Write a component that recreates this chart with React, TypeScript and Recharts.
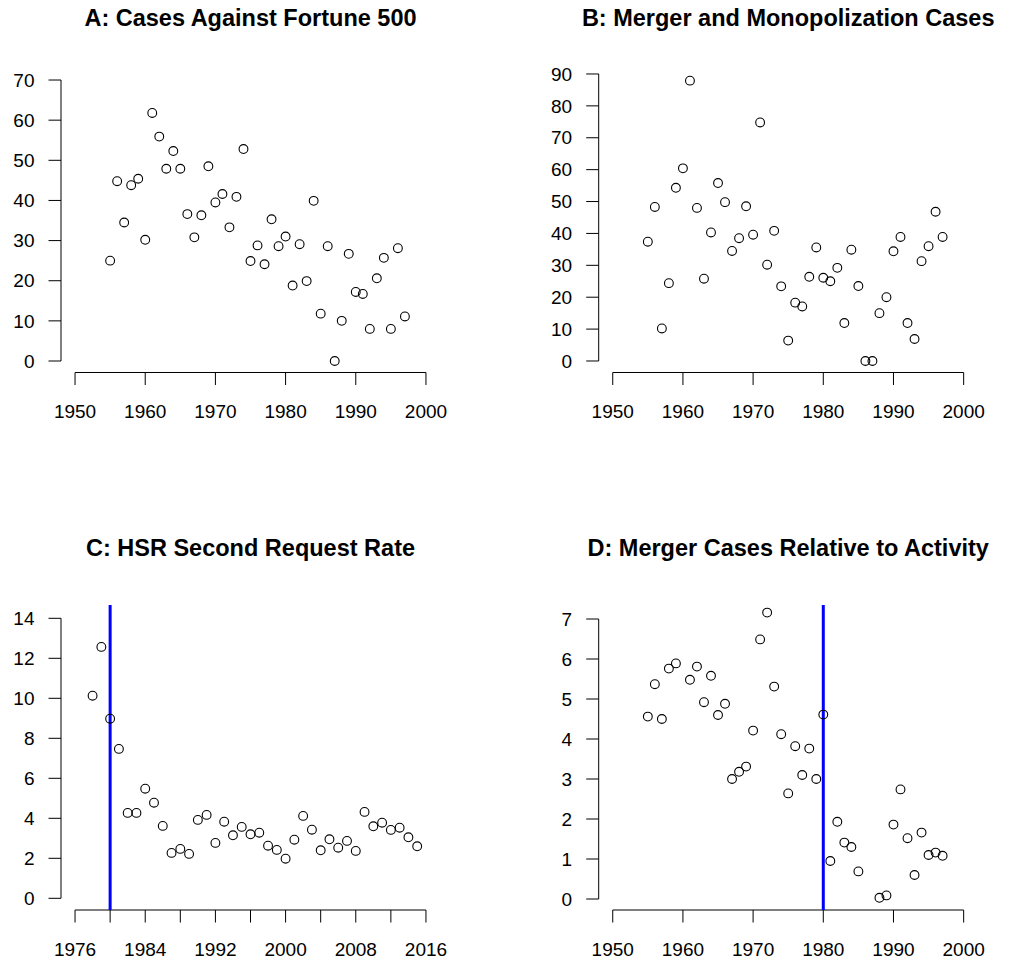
import React from 'react';
import { ScatterChart, Scatter, XAxis, YAxis, ReferenceLine } from 'recharts';

const FONT = '"Liberation Sans", Arial, Helvetica, sans-serif';

// A and B (and D) share the same years
const years = [
  1955, 1956, 1957, 1958, 1959, 1960, 1961, 1962, 1963, 1964,
  1965, 1966, 1967, 1968, 1969, 1970, 1971, 1972, 1973, 1974,
  1975, 1976, 1977, 1978, 1979, 1980, 1981, 1982, 1983, 1984,
  1985, 1986, 1987, 1988, 1989, 1990, 1991, 1992, 1993, 1994,
  1995, 1996, 1997,
];

const fortune500Cases = [
  25, 44.8, 34.5, 43.8, 45.4, 30.2, 61.8, 55.9, 47.9, 52.3,
  47.9, 36.6, 30.8, 36.3, 48.5, 39.5, 41.6, 33.3, 40.9, 52.8,
  24.9, 28.8, 24.1, 35.3, 28.6, 31.0, 18.8, 29.1, 19.9, 39.9,
  11.8, 28.6, 0, 10.0, 26.7, 17.2, 16.7, 8.0, 20.6, 25.7,
  8.0, 28.1, 11.1,
];

const mergerMonopolyCases = [
  37.4, 48.3, 10.2, 24.4, 54.3, 60.4, 87.9, 48.0, 25.8, 40.3,
  55.8, 49.8, 34.5, 38.5, 48.5, 39.6, 74.8, 30.2, 40.8, 23.4,
  6.4, 18.3, 17.1, 26.4, 35.6, 26.1, 25.0, 29.2, 11.9, 34.9,
  23.5, 0, 0, 15.0, 20.0, 34.4, 38.9, 11.9, 6.9, 31.3,
  36.0, 46.8, 38.9,
];

const hsrYears = [
  1978, 1979, 1980, 1981, 1982, 1983, 1984, 1985, 1986, 1987,
  1988, 1989, 1990, 1991, 1992, 1993, 1994, 1995, 1996, 1997,
  1998, 1999, 2000, 2001, 2002, 2003, 2004, 2005, 2006, 2007,
  2008, 2009, 2010, 2011, 2012, 2013, 2014, 2015,
];

const hsrSecondRequestRate = [
  10.13, 12.57, 8.98, 7.47, 4.27, 4.27, 5.48, 4.78, 3.62, 2.27,
  2.47, 2.22, 3.92, 4.17, 2.77, 3.83, 3.15, 3.57, 3.2, 3.28,
  2.63, 2.42, 1.98, 2.93, 4.12, 3.43, 2.4, 2.95, 2.53, 2.87,
  2.37, 4.32, 3.6, 3.78, 3.42, 3.53, 3.05, 2.6,
];

// null = no point that year
const mergerCasesPerActivity = [
  4.56, 5.37, 4.5, 5.76, 5.89, null, 5.48, 5.81, 4.92, 5.58,
  4.6, 4.88, 3.0, 3.18, 3.31, 4.21, 6.49, 7.16, 5.31, 4.12,
  2.64, 3.82, 3.1, 3.76, 3.0, 4.61, 0.95, 1.93, 1.41, 1.3,
  0.69, null, null, 0.03, 0.09, 1.86, 2.74, 1.52, 0.6, 1.66,
  1.1, 1.16, 1.08,
];

const yearTicks = [1950, 1960, 1970, 1980, 1990, 2000];
const hsrTicks = [1976, 1980, 1984, 1988, 1992, 1996, 2000, 2004, 2008, 2012, 2016];
const ticksA = [0, 10, 20, 30, 40, 50, 60, 70];
const ticksB = [0, 10, 20, 30, 40, 50, 60, 70, 80, 90];
const ticksC = [0, 2, 4, 6, 8, 10, 12, 14];
const ticksD = [0, 1, 2, 3, 4, 5, 6, 7];

const toPoints = (xs: number[], ys: (number | null)[]) =>
  xs.map((x, i) => ({ x, y: ys[i] })).filter(p => p.y !== null);

const openCircle = (props: any) => (
  <circle cx={props.cx} cy={props.cy} r={4.4} fill="none" stroke="#000" strokeWidth={1.1} />
);

const PANEL_W = 508;
const PANEL_H = 481;
const X_AXIS_H = 40;

function Panel({ ox, oy, plot, xDomain, yDomain, xTicks, yTicks, data, vline, xFormat }: any) {
  const margin = {
    top: plot.t - oy,
    left: 0,
    right: ox + PANEL_W - plot.r,
    bottom: oy + PANEL_H - plot.b - X_AXIS_H,
  };
  const tickStyle = { fill: '#000', fontSize: 19, fontFamily: FONT };
  return <div style={{ position: 'absolute', left: ox, top: oy }}>
      <ScatterChart width={PANEL_W} height={PANEL_H} margin={margin}>
        <XAxis type="number" dataKey="x" domain={xDomain} allowDataOverflow ticks={xTicks} interval={0}
          axisLine={false} tickLine={{ stroke: '#000' }} stroke="#000" tickSize={12.5} tickMargin={20}
          height={X_AXIS_H} tick={tickStyle} tickFormatter={xFormat} />
        <YAxis type="number" dataKey="y" domain={yDomain} allowDataOverflow ticks={yTicks} interval={0}
          axisLine={false} tickLine={{ stroke: '#000' }} stroke="#000" tickSize={12.5} tickMargin={14}
          width={plot.l - ox} tick={tickStyle} />
        <ReferenceLine ifOverflow="visible" stroke="#000" strokeWidth={1}
          segment={[{ x: xTicks[0], y: yDomain[0] }, { x: xTicks[xTicks.length - 1], y: yDomain[0] }]} />
        <ReferenceLine ifOverflow="visible" stroke="#000" strokeWidth={1}
          segment={[{ x: xDomain[0], y: yTicks[0] }, { x: xDomain[0], y: yTicks[yTicks.length - 1] }]} />
        {vline && <ReferenceLine x={vline} stroke="#0000FF" strokeWidth={3} />}
        <Scatter data={data} shape={openCircle} isAnimationActive={false} />
      </ScatterChart>
    </div>;
}

const titleStyle = { fontFamily: FONT, fontSize: 23.5, fontWeight: 'bold' as const, fill: '#000' };

export default function App() {
  const left = { l: 61, r: 440 };
  const right = { l: 598.7, r: 977.7 };
  const topRow = { t: 67.5, b: 372.5 };
  const botRow = { t: 605, b: 910 };
  return <div style={{ position: 'absolute', left: 0, top: 0, width: 1015, height: 962, background: '#fff' }}>
      <Panel ox={0} oy={0} plot={{ ...left, ...topRow }} xDomain={[1948, 2002]} yDomain={[-2.865, 73.12]}
        xTicks={yearTicks} yTicks={ticksA} data={toPoints(years, fortune500Cases)} />
      <Panel ox={507} oy={0} plot={{ ...right, ...topRow }} xDomain={[1948, 2002]} yDomain={[-3.61, 92.03]}
        xTicks={yearTicks} yTicks={ticksB} data={toPoints(years, mergerMonopolyCases)} />
      <Panel ox={0} oy={481} plot={{ ...left, ...botRow }} xDomain={[1974.4, 2017.6]} yDomain={[-0.585, 14.665]}
        xTicks={hsrTicks} yTicks={ticksC} data={toPoints(hsrYears, hsrSecondRequestRate)} vline={1980}
        xFormat={(v: number) => ((v - 1976) % 8 === 0 ? String(v) : '')} />
      <Panel ox={507} oy={481} plot={{ ...right, ...botRow }} xDomain={[1948, 2002]} yDomain={[-0.275, 7.35]}
        xTicks={yearTicks} yTicks={ticksD} data={toPoints(years, mergerCasesPerActivity)} vline={1980} />
      <svg width={1015} height={962} style={{ position: 'absolute', left: 0, top: 0, pointerEvents: 'none' }}>
        <text x={250.5} y={25.5} textAnchor="middle" style={titleStyle}>A: Cases Against Fortune 500</text>
        <text x={788.2} y={25.5} textAnchor="middle" style={titleStyle}>B: Merger and Monopolization Cases</text>
        <text x={250.5} y={556} textAnchor="middle" style={titleStyle}>C: HSR Second Request Rate</text>
        <text x={788.2} y={556} textAnchor="middle" style={titleStyle}>D: Merger Cases Relative to Activity</text>
      </svg>
    </div>;
}
